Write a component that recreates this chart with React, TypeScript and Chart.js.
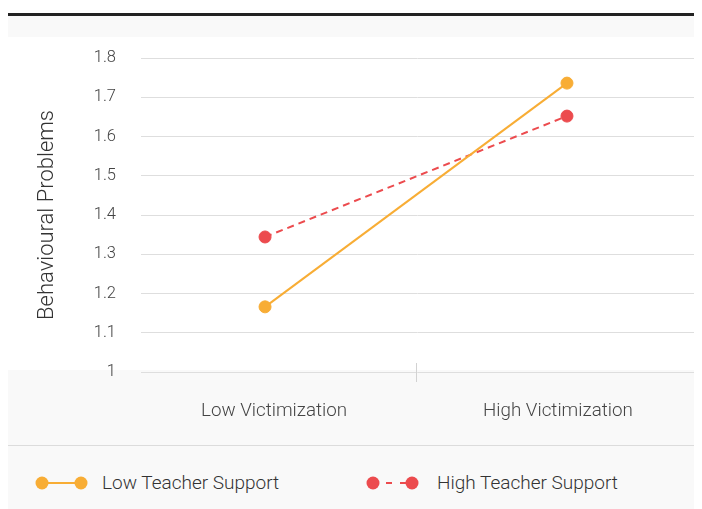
import React, { useEffect, useRef } from 'react';
import { Chart, registerables } from 'chart.js';

Chart.register(...registerables);

// ---- data ----
const categories: string[] = ['Low Victimization', 'High Victimization'];
const seriesNames: string[] = ['Low Teacher Support', 'High Teacher Support'];
const lowSupportValues: number[] = [1.166, 1.736];
const highSupportValues: number[] = [1.344, 1.652];
const yTickLabels: string[] = ['1', '1.1', '1.2', '1.3', '1.4', '1.5', '1.6', '1.7', '1.8'];
const yAxisTitle = 'Behavioural Problems';

// ---- styles ----
const ORANGE = '#F8AD35';
const RED = '#EC4B4E';
const GRID = '#dedede';
const PANEL = '#f9f9f9';
const FONT = "Roboto, 'Noto Sans', sans-serif";
const LABEL_INSET = 0.03;

export default function App() {
  const canvasRef = useRef<HTMLCanvasElement | null>(null);

  useEffect(() => {
    if (!canvasRef.current) return;

    const bgPlugin = {
      id: 'bgPanels',
      beforeDraw(chart: any) {
        const { ctx, height, chartArea } = chart;
        ctx.save();
        ctx.fillStyle = '#ffffff';
        ctx.fillRect(0, 0, chartArea.right, height);
        ctx.fillStyle = PANEL;
        ctx.fillRect(0, chartArea.bottom - 2, chartArea.right + 3, height - chartArea.bottom + 2);
        ctx.restore();
      },
      afterDraw(chart: any) {
        const { ctx, chartArea, scales } = chart;
        const xm = Math.round(scales.x.getPixelForValue((categories.length - 1) / 2)) + 0.5;
        ctx.save();
        ctx.strokeStyle = '#d2d2d2';
        ctx.lineWidth = 1;
        ctx.beginPath();
        ctx.moveTo(xm, chartArea.bottom - 9);
        ctx.lineTo(xm, chartArea.bottom + 10);
        ctx.stroke();
        ctx.restore();
      },
    };

    const chart = new Chart(canvasRef.current, {
      type: 'line',
      data: {
        datasets: [
          {
            label: seriesNames[0],
            data: lowSupportValues.map((v, i) => ({ x: i, y: v })),
            borderColor: ORANGE,
            backgroundColor: ORANGE,
            pointBackgroundColor: ORANGE,
            pointBorderColor: ORANGE,
            borderWidth: 2,
            pointRadius: 6,
            pointHoverRadius: 6,
            pointBorderWidth: 1,
          },
          {
            label: seriesNames[1],
            data: highSupportValues.map((v, i) => ({ x: i, y: v })),
            borderColor: RED,
            backgroundColor: RED,
            pointBackgroundColor: RED,
            pointBorderColor: RED,
            borderWidth: 2,
            borderDash: [7, 5],
            pointRadius: 6,
            pointHoverRadius: 6,
            pointBorderWidth: 1,
          },
        ],
      },
      options: {
        animation: false,
        responsive: true,
        maintainAspectRatio: false,
        layout: { padding: { top: 21, left: 0, right: 0, bottom: 0 } },
        plugins: {
          legend: { display: false },
          tooltip: { enabled: false },
        },
        scales: {
          x: {
            type: 'linear',
            min: -0.4108,
            max: 1.4207,
            grid: { display: false },
            border: { display: false },
            afterBuildTicks: (scale: any) => {
              scale.ticks = categories.map((_, i) => ({
                value: i === 0 ? i + LABEL_INSET : i - LABEL_INSET,
              }));
            },
            afterFit: (scale: any) => {
              scale.height = 73;
            },
            ticks: {
              padding: 20,
              color: '#444444',
              font: { family: FONT, size: 18.8, weight: '300' },
              maxRotation: 0,
              autoSkip: false,
              callback: (_v: any, idx: number) => categories[idx],
            },
          },
          y: {
            type: 'linear',
            min: 1,
            max: 1.8,
            afterBuildTicks: (scale: any) => {
              scale.ticks = yTickLabels.map((t) => ({ value: parseFloat(t) }));
            },
            afterFit: (scale: any) => {
              scale.width = 133;
            },
            grid: {
              color: GRID,
              drawTicks: true,
              tickLength: 25,
              tickColor: 'rgba(0,0,0,0)',
              lineWidth: 1,
            },
            border: { display: false },
            ticks: {
              padding: 0,
              color: '#444444',
              font: { family: FONT, size: 16.5, weight: '300' },
              callback: (_v: any, idx: number) => yTickLabels[idx],
            },
            title: {
              display: true,
              text: yAxisTitle,
              color: '#333333',
              font: { family: FONT, size: 22, weight: '300' },
              padding: { top: 26, bottom: 0 },
            },
          },
        },
      },
      plugins: [bgPlugin],
    } as any);

    return () => chart.destroy();
  }, []);

  const legendText: React.CSSProperties = {
    position: 'absolute',
    top: 0,
    height: 74,
    lineHeight: '74px',
    fontFamily: FONT,
    fontWeight: 300,
    fontSize: 19,
    color: '#333333',
    whiteSpace: 'nowrap',
  };

  return (
    <div style={{ paddingTop: 5, width: 686 }}>
      <div style={{ borderTop: '3px solid #222222', height: 21, background: PANEL }} />
      <div style={{ position: 'relative', width: 693, height: 408 }}>
        <canvas ref={canvasRef} />
      </div>
      <div style={{ height: 1, background: '#dcdcdc' }} />
      <div style={{ position: 'relative', height: 74, background: PANEL }}>
        <svg
          width={54}
          height={16}
          style={{ position: 'absolute', left: 27, top: 29 }}
        >
          <line x1={7} y1={8} x2={46} y2={8} stroke={ORANGE} strokeWidth={2} />
          <circle cx={7} cy={8} r={6.5} fill={ORANGE} />
          <circle cx={46} cy={8} r={6.5} fill={ORANGE} />
        </svg>
        <span style={{ ...legendText, left: 94 }}>{seriesNames[0]}</span>
        <svg
          width={54}
          height={16}
          style={{ position: 'absolute', left: 358, top: 29 }}
        >
          <line x1={20} y1={8} x2={40} y2={8} stroke={RED} strokeWidth={2} strokeDasharray="6 8" />
          <circle cx={7} cy={8} r={6.5} fill={RED} />
          <circle cx={46} cy={8} r={6.5} fill={RED} />
        </svg>
        <span style={{ ...legendText, left: 429 }}>{seriesNames[1]}</span>
      </div>
    </div>
  );
}
